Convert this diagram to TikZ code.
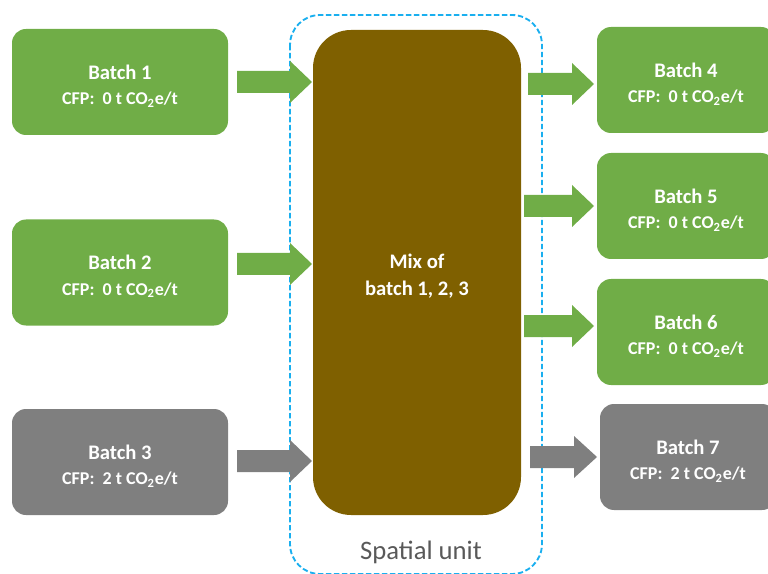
\documentclass[tikz,border=0pt]{standalone}
\usepackage{fontspec}
\setmainfont{Carlito}
\definecolor{batchgreen}{HTML}{70AD47}
\definecolor{batchgray}{HTML}{7F7F7F}
\definecolor{mixbrown}{HTML}{7F6000}
\definecolor{unitblue}{HTML}{1AAFEF}
\definecolor{labelgray}{HTML}{595959}
% one drawing unit is 0.75pt
\tikzset{
  batch/.style={rounded corners=14*0.75pt, minimum width=216*0.75pt, minimum height=106*0.75pt,
    inner sep=0pt, text=white, align=center, font=\bfseries\fontsize{15.5}{19}\selectfont},
  greenbatch/.style={batch, fill=batchgreen},
  graybatch/.style={batch, fill=batchgray},
}
% block arrow: #1 colour, #2 tail x, #3 head base x, #4 tip x, #5 centre y
\newcommand\blockarrow[5]{%
  \fill[#1] (#2,#5-11) -- (#3,#5-11) -- (#3,#5-21) -- (#4,#5) --
            (#3,#5+21) -- (#3,#5+11) -- (#2,#5+11) -- cycle;}
% batch name and its carbon footprint
\newcommand\batchtext[2]{\rule{0pt}{17pt}Batch #1\\
  {\fontsize{13.5}{15}\selectfont CFP:\ \ #2 t CO\textsubscript{2}e/t}}
\begin{document}
\begin{tikzpicture}[x=0.75pt,y=-0.75pt]
\useasboundingbox (0,0) rectangle (768,574);

% spatial unit boundary
\draw[unitblue, line width=1.4, dash pattern=on 4pt off 2pt, rounded corners=30*0.75pt]
  (290,15) rectangle (542,574);
\node[text=labelgray, font=\fontsize{20}{22}\selectfont] (unitlabel) at (421,552) {Spatial unit};

% mixing unit
\node[fill=mixbrown, rounded corners=38*0.75pt, minimum width=208*0.75pt, minimum height=485*0.75pt,
      inner sep=0pt, text=white, align=center, font=\bfseries\fontsize{15.5}{20.5}\selectfont]
  (mix) at (417,272.5) {\rule{0pt}{16pt}Mix of\\batch 1, 2, 3};

% incoming batches
\node[greenbatch] (b1) at (120,82)  {\batchtext{1}{0}};
\node[greenbatch] (b2) at (120,272.5) {\batchtext{2}{0}};
\node[graybatch]  (b3) at (120,462) {\batchtext{3}{2}};

% outgoing batches
\node[greenbatch, minimum width=178*0.75pt] (b4) at (686,80)  {\batchtext{4}{0}};
\node[greenbatch, minimum width=178*0.75pt] (b5) at (686,206) {\batchtext{5}{0}};
\node[greenbatch, minimum width=178*0.75pt] (b6) at (686,332) {\batchtext{6}{0}};
\node[graybatch,  minimum width=176*0.75pt] (b7) at (688,457) {\batchtext{7}{2}};

% flows into the mix
\blockarrow{batchgreen}{237}{290}{312}{82}
\blockarrow{batchgreen}{237}{290}{312}{264}
\blockarrow{batchgray}{237}{290}{312}{461}

% flows out of the mix
\blockarrow{batchgreen}{528}{572}{594}{84}
\blockarrow{batchgreen}{524}{572}{594}{206}
\blockarrow{batchgreen}{524}{572}{594}{326}
\blockarrow{batchgray}{530}{574}{597}{457}
\end{tikzpicture}
\end{document}
